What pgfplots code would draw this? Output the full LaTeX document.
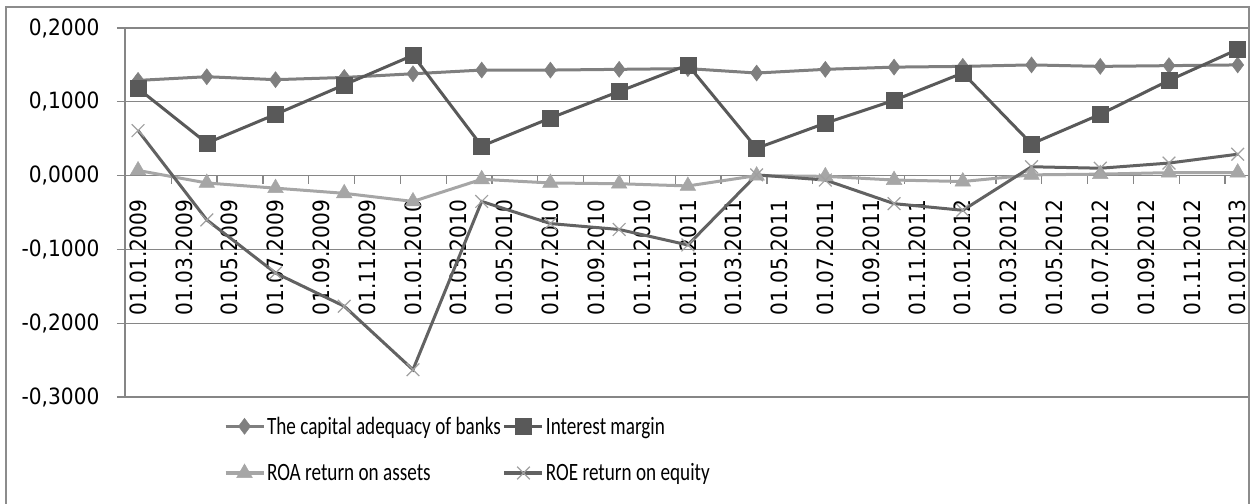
\documentclass[border=0pt]{standalone}
\usepackage{pgfplots}
\pgfplotsset{compat=1.18}
\usepackage{pgfplotstable}
\usepackage{fontspec}
\setmainfont{Carlito}
\newfontfamily\tickfont[FakeStretch=0.9]{DejaVu Sans}
\newfontfamily\legfont[FakeStretch=0.77]{Carlito}
\definecolor{cCA}{HTML}{7F7F7F}
\definecolor{cIM}{HTML}{595959}
\definecolor{cROA}{HTML}{A6A6A6}
\definecolor{cROE}{HTML}{626262}
\definecolor{cX}{HTML}{A0A0A0}
\definecolor{cGrid}{HTML}{868686}
\definecolor{cFrame}{HTML}{8C8C8C}
\pgfplotstableread{
m ca im roa roe
0 0.129 0.118 0.007 0.061
3 0.134 0.044 -0.010 -0.060
6 0.130 0.083 -0.017 -0.132
9 0.133 0.123 -0.024 -0.177
12 0.138 0.163 -0.035 -0.263
15 0.143 0.040 -0.005 -0.035
18 0.143 0.078 -0.010 -0.065
21 0.144 0.114 -0.011 -0.073
24 0.145 0.150 -0.014 -0.094
27 0.139 0.037 0.000 0.001
30 0.144 0.071 -0.001 -0.006
33 0.147 0.102 -0.006 -0.038
36 0.148 0.139 -0.008 -0.047
39 0.150 0.043 0.001 0.012
42 0.148 0.083 0.002 0.010
45 0.149 0.129 0.004 0.017
48 0.150 0.171 0.004 0.029
}\data
\begin{document}
\begin{tikzpicture}
\begin{axis}[
  name=ax, at={(125bp,-397bp)}, anchor=south west,
  scale only axis, width=1123bp, height=369bp,
  xmin=-0.57, xmax=48.45, ymin=-0.3, ymax=0.2,
  clip=false,
  axis x line=middle, axis y line=left,
  hide obscured x ticks=false, hide obscured y ticks=false,
  axis line style={-, draw=cGrid, line width=1.3bp},
  xtick={0,2,...,48},
  xticklabels={01.01.2009,01.03.2009,01.05.2009,01.07.2009,01.09.2009,01.11.2009,
    01.01.2010,01.03.2010,01.05.2010,01.07.2010,01.09.2010,01.11.2010,
    01.01.2011,01.03.2011,01.05.2011,01.07.2011,01.09.2011,01.11.2011,
    01.01.2012,01.03.2012,01.05.2012,01.07.2012,01.09.2012,01.11.2012,01.01.2013},
  minor xtick={-0.55,1.45,...,47.45},
  ytick={-0.3,-0.2,-0.1,0,0.1,0.2},
  yticklabels={{-0,3000},{-0,2000},{-0,1000},{0,0000},{0,1000},{0,2000}},
  ymajorgrids, grid style={draw=cGrid, line width=1.3bp},
  tick align=outside, major tick length=8bp, minor tick length=8bp,
  tick style={draw=cGrid, line width=1.3bp},
  major x tick style={draw=none},
  tick label style={font=\tickfont\fontsize{22.5}{26}\selectfont, text=black},
  x tick label style={rotate=90, anchor=east, inner xsep=16bp},
  y tick label style={xshift=-14bp},
  legend columns=2,
  legend cell align=left,
  legend style={at={(0.088,-0.048)}, anchor=north west, draw=none, fill=none,
    inner sep=0bp, font=\legfont\fontsize{25}{28}\selectfont, /tikz/row sep=24bp},
  legend image code/.code={\draw[mark repeat=2,mark phase=2] plot coordinates {(0bp,0bp)(19bp,0bp)(38bp,0bp)};},
]
\addplot[cCA, line width=3bp, mark=diamond*, mark size=8bp, mark options={solid, fill=cCA, line width=0.5bp}] table[x=m,y=ca]{\data};
\addlegendentry{The capital adequacy of banks}
\addplot[cIM, line width=3bp, mark=square*, mark size=8bp, mark options={solid, fill=cIM, line width=0.5bp}] table[x=m,y=im]{\data};
\addlegendentry{Interest margin}
\addplot[cROA, line width=3bp, mark=triangle*, mark size=9bp, mark options={solid, fill=cROA, line width=0.5bp}] table[x=m,y=roa]{\data};
\addlegendentry{ROA return on assets}
\addplot[cROE, line width=3bp, mark=x, mark size=9bp, mark options={solid, draw=cX, line width=1.2bp}] table[x=m,y=roe]{\data};
\addlegendentry{ROE return on equity}
\end{axis}
\draw[cFrame, line width=2.5bp] (6bp,-504bp) -- (6bp,-7bp) -- (1249bp,-7bp) -- (1249bp,-504bp);
\pgfresetboundingbox
\useasboundingbox (0,0) rectangle (1257bp,-504bp);
\end{tikzpicture}
\end{document}
